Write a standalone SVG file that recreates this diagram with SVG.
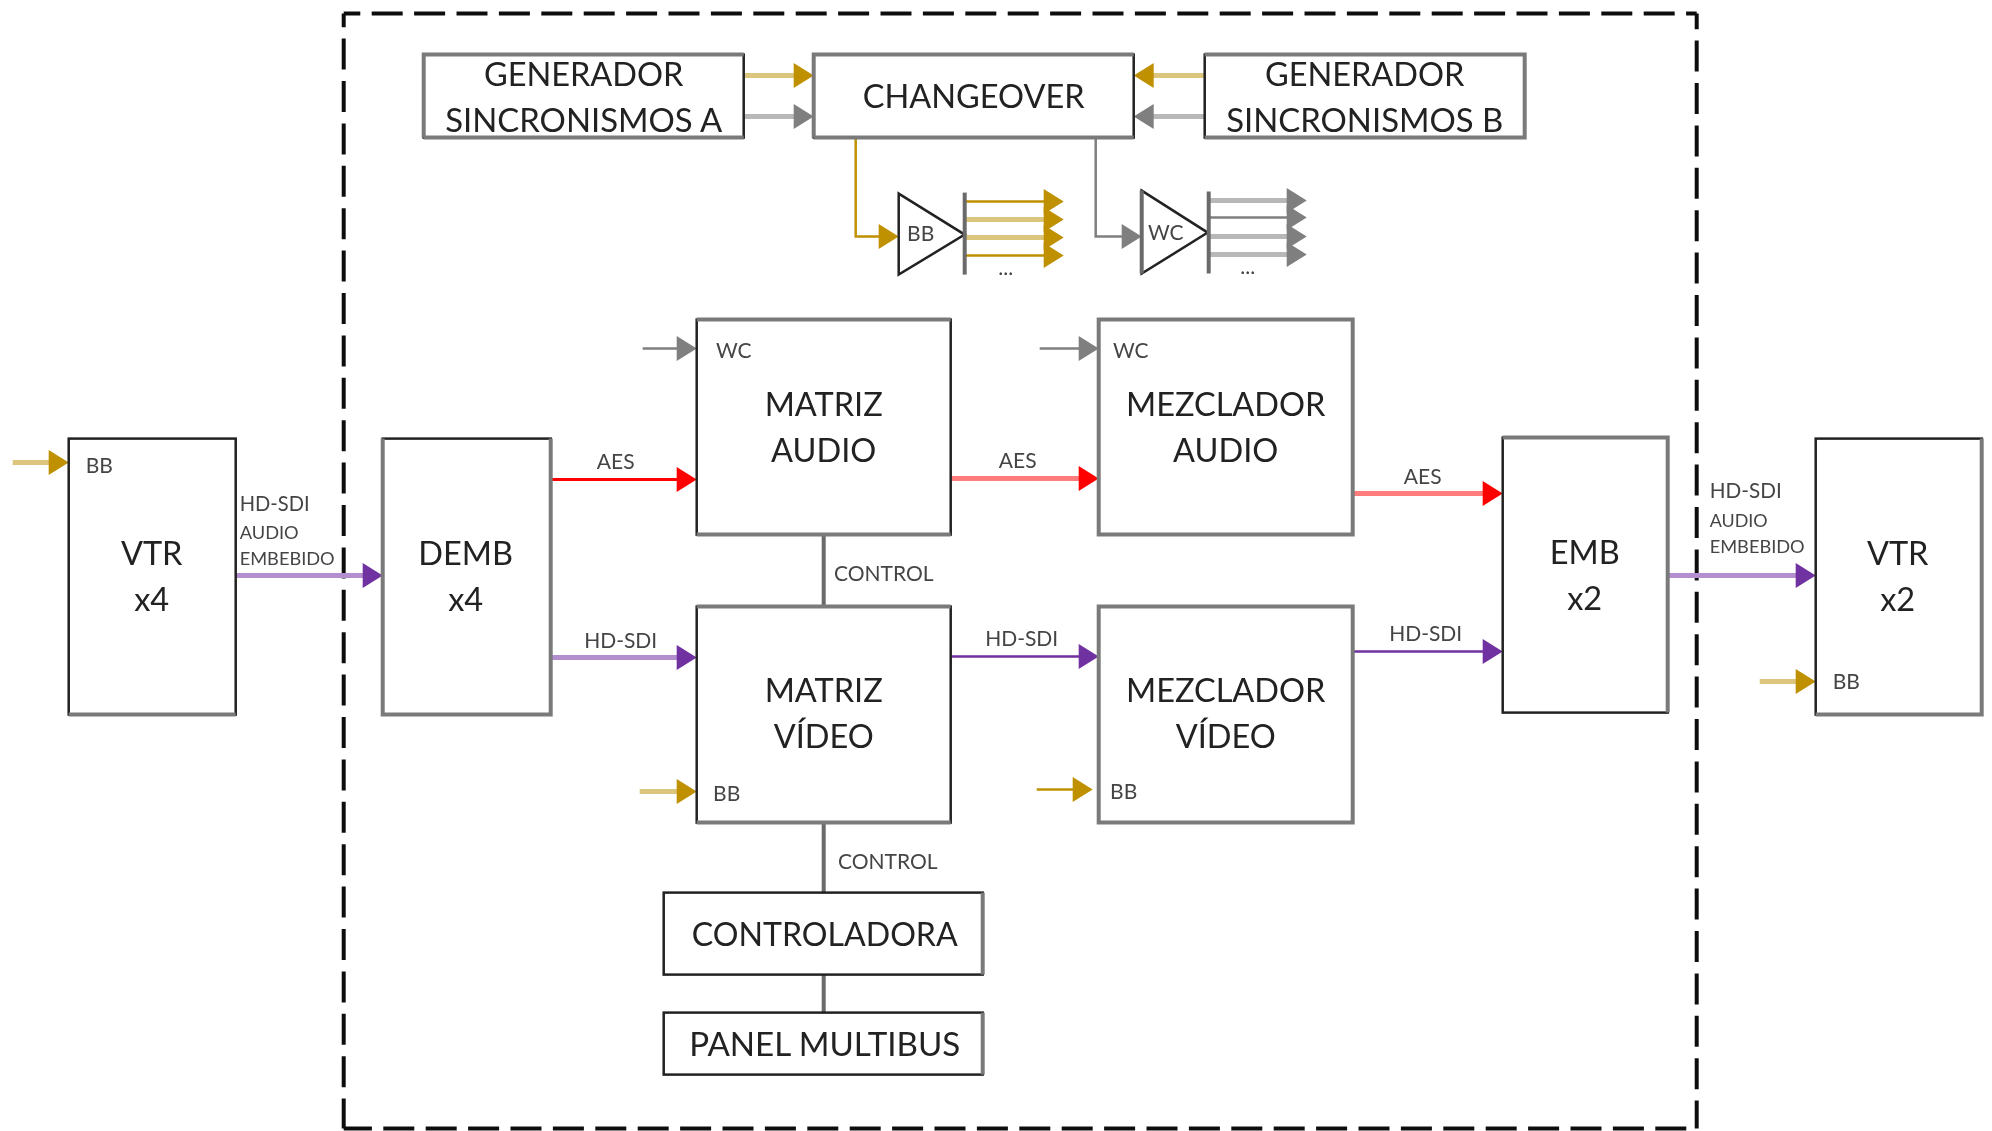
<svg xmlns="http://www.w3.org/2000/svg" width="1992" height="1131" viewBox="0 0 1992 1131">
<style>
.b{fill:#fff;stroke:#222;stroke-width:2.5}
.e{fill:none;stroke:#7a7a7a;stroke-width:4}
.d{fill:none;stroke:#111;stroke-width:4}
text{font-family:Lato,"Liberation Sans",sans-serif;fill:#222;text-anchor:middle;transform:translateY(-0.8px)}
.t{font-size:32.5px}
.s{font-size:21px;fill:#444}
.x{font-size:21px;fill:#444;text-anchor:start}
.y{font-size:18px;fill:#444;text-anchor:start}
.w{fill:none}
.go{stroke:#BF9000;stroke-width:2.5}
.gs{stroke:#DCC67E;stroke-width:5}
.gr{stroke:#7F7F7F;stroke-width:2.5}
.grs{stroke:#B8B8B8;stroke-width:5}
.r{stroke:#FF0000;stroke-width:3}
.rs{stroke:#FF7C7C;stroke-width:5}
.p{stroke:#7030A0;stroke-width:2.5}
.ps{stroke:#B48FD0;stroke-width:5}
.k{stroke:#6a6a6a;stroke-width:4;fill:none}
.ah-g{fill:#BF9000}.ah-y{fill:#7F7F7F}.ah-r{fill:#FF0000}.ah-p{fill:#7030A0}
</style>
<defs>
<path id="ah" d="M-20-12.5L0 0L-20 12.5Z"/>
<filter id="soft" x="0" y="0" width="100%" height="100%"><feGaussianBlur stdDeviation="0.5"/></filter>
</defs>
<g filter="url(#soft)">
<rect width="1992" height="1131" fill="#fff"/>
<g transform="translate(0.7 0.6)">
<g id="boundary" stroke-dasharray="31 11.4">
<path class="d" d="M343 13H1696" stroke-dashoffset="14.4"/>
<path class="d" d="M1696 13V1128" stroke-dashoffset="15.4"/>
<path class="d" d="M343 1128H1696" stroke-dashoffset="2.8"/>
<path class="d" d="M343 13V1128" stroke-dashoffset="17.4"/>
</g>
<g id="connectors">
<path class="w gs" d="M743 75H795"/><use href="#ah" class="ah-g" x="813" y="75"/>
<path class="w grs" d="M743 116H795"/><use href="#ah" class="ah-y" x="813" y="116"/>
<path class="w gs" d="M1204 75H1151"/><use href="#ah" class="ah-g" transform="translate(1133 75) scale(-1 1)"/>
<path class="w grs" d="M1204 116H1151"/><use href="#ah" class="ah-y" transform="translate(1133 116) scale(-1 1)"/>
<path class="w go" d="M855 137V236H880"/><use href="#ah" class="ah-g" x="898" y="236"/>
<path class="w gr" d="M1095 137V236H1123"/><use href="#ah" class="ah-y" x="1141" y="236"/>
<path class="w go" d="M964 201H1045"/><path class="w gs" d="M964 219H1045M964 237H1045"/><path class="w go" d="M964 255H1045"/>
<use href="#ah" class="ah-g" x="1063" y="201"/><use href="#ah" class="ah-g" x="1063" y="219"/><use href="#ah" class="ah-g" x="1063" y="237"/><use href="#ah" class="ah-g" x="1063" y="255"/>
<path class="w grs" d="M1208 200H1288M1208 236H1288M1208 254H1288"/><path class="w gr" d="M1208 217H1288"/>
<use href="#ah" class="ah-y" x="1306" y="200"/><use href="#ah" class="ah-y" x="1306" y="217"/><use href="#ah" class="ah-y" x="1306" y="236"/><use href="#ah" class="ah-y" x="1306" y="254"/>
<path class="w gs" d="M12 462H50"/><use href="#ah" class="ah-g" x="68" y="462"/>
<path class="w ps" d="M235 575H364"/><use href="#ah" class="ah-p" x="382" y="575"/>
<path class="w r" d="M550 479H678"/><use href="#ah" class="ah-r" x="696" y="479"/>
<path class="w ps" d="M550 657H678"/><use href="#ah" class="ah-p" x="696" y="657"/>
<path class="w rs" d="M950 478H1080"/><use href="#ah" class="ah-r" x="1098" y="478"/>
<path class="w p" d="M950 656H1080"/><use href="#ah" class="ah-p" x="1098" y="656"/>
<path class="w rs" d="M1353 493H1484"/><use href="#ah" class="ah-r" x="1502" y="493"/>
<path class="w p" d="M1353 651H1484"/><use href="#ah" class="ah-p" x="1502" y="651"/>
<path class="w ps" d="M1668 575H1797"/><use href="#ah" class="ah-p" x="1815" y="575"/>
<path class="w gs" d="M1759 681H1797"/><use href="#ah" class="ah-g" x="1815" y="681"/>
<path class="w gr" d="M642 348H678"/><use href="#ah" class="ah-y" x="696" y="348"/>
<path class="w gr" d="M1039 348H1080"/><use href="#ah" class="ah-y" x="1098" y="348"/>
<path class="w gs" d="M639 791H678"/><use href="#ah" class="ah-g" x="696" y="791"/>
<path class="w go" d="M1036 789H1074"/><use href="#ah" class="ah-g" x="1092" y="789"/>
<path class="k" d="M823 534V606M823 822V892M823 974V1012"/>
</g>
<g id="gen-a"><rect class="b" x="423" y="54" width="320" height="83"/><path class="e" d="M423 137V54H743M423 137H743"/><text class="t" x="583" y="86">GENERADOR</text><text class="t" x="583" y="132" textLength="277" lengthAdjust="spacingAndGlyphs">SINCRONISMOS A</text></g>
<g id="changeover"><rect class="b" x="813" y="54" width="320" height="83"/><path class="e" d="M813 137V54H1133M813 137H1133"/><text class="t" x="973" y="108">CHANGEOVER</text></g>
<g id="gen-b"><rect class="b" x="1204" y="54" width="320" height="83"/><path class="e" d="M1204 54H1524V137H1204"/><text class="t" x="1364" y="86">GENERADOR</text><text class="t" x="1364" y="132" textLength="277" lengthAdjust="spacingAndGlyphs">SINCRONISMOS B</text></g>
<g id="amp-bb"><path d="M898 193L964 234L898 274Z" fill="#fff" stroke="#222" stroke-width="2.5"/><path class="k" d="M964 192V274"/><text class="s" x="920" y="241">BB</text><text class="s" x="1005" y="275" font-size="14">...</text></g>
<g id="amp-wc"><path d="M1141 190L1207 232L1141 273Z" fill="#fff" stroke="#222" stroke-width="2.5"/><path class="k" d="M1141 190V273M1208 191V273"/><text class="s" x="1165" y="240">WC</text><text class="s" x="1247" y="274" font-size="14">...</text></g>
<g id="vtr-x4"><rect class="b" x="68" y="438" width="167" height="276"/><path class="e" d="M68 714H235"/><text class="t" x="151" y="565">VTR</text><text class="t" x="151" y="611">x4</text><text class="x" x="85" y="473">BB</text></g>
<g id="label-sdi-a"><text class="x" x="239" y="511" textLength="70" lengthAdjust="spacingAndGlyphs">HD-SDI</text><text class="y" x="239" y="539" textLength="59" lengthAdjust="spacingAndGlyphs">AUDIO</text><text class="y" x="239" y="565" textLength="95" lengthAdjust="spacingAndGlyphs">EMBEBIDO</text></g>
<g id="demb"><rect class="b" x="382" y="438" width="168" height="276"/><path class="e" d="M382 438V714H550V438"/><text class="t" x="465" y="565">DEMB</text><text class="t" x="465" y="611">x4</text></g>
<g id="matriz-audio"><rect class="b" x="696" y="319" width="254" height="215"/><path class="e" d="M696 534H950M696 319H950"/><text class="t" x="823" y="416">MATRIZ</text><text class="t" x="823" y="462">AUDIO</text><text class="s" x="733" y="358">WC</text></g>
<g id="mezclador-audio"><rect class="b" x="1098" y="319" width="254" height="215"/><path class="e" d="M1098 319H1352V534H1098Z"/><text class="t" x="1225" y="416">MEZCLADOR</text><text class="t" x="1225" y="462">AUDIO</text><text class="s" x="1130" y="358">WC</text></g>
<g id="matriz-video"><rect class="b" x="696" y="606" width="254" height="216"/><path class="e" d="M696 606H950M696 822H950"/><text class="t" x="823" y="702">MATRIZ</text><text class="t" x="823" y="748">VÍDEO</text><text class="s" x="726" y="801">BB</text></g>
<g id="mezclador-video"><rect class="b" x="1098" y="606" width="254" height="216"/><path class="e" d="M1098 606H1352V822H1098Z"/><text class="t" x="1225" y="702">MEZCLADOR</text><text class="t" x="1225" y="748">VÍDEO</text><text class="s" x="1123" y="799">BB</text></g>
<g id="emb"><rect class="b" x="1502" y="437" width="165" height="275"/><path class="e" d="M1502 437H1667V712"/><text class="t" x="1584" y="564">EMB</text><text class="t" x="1584" y="610">x2</text></g>
<g id="label-sdi-b"><text class="x" x="1709" y="498" textLength="72" lengthAdjust="spacingAndGlyphs">HD-SDI</text><text class="y" x="1709" y="527" textLength="58" lengthAdjust="spacingAndGlyphs">AUDIO</text><text class="y" x="1709" y="553" textLength="95" lengthAdjust="spacingAndGlyphs">EMBEBIDO</text></g>
<g id="vtr-x2"><rect class="b" x="1815" y="438" width="166" height="276"/><path class="e" d="M1981 438V714H1815"/><text class="t" x="1897" y="565">VTR</text><text class="t" x="1897" y="611">x2</text><text class="x" x="1832" y="689">BB</text></g>
<g id="controladora"><rect class="b" x="663" y="892" width="319" height="82"/><path class="e" d="M982 892V974"/><text class="t" x="824" y="946" textLength="266" lengthAdjust="spacingAndGlyphs">CONTROLADORA</text></g>
<g id="panel"><rect class="b" x="663" y="1012" width="319" height="62"/><path class="e" d="M982 1012V1074"/><text class="t" x="824" y="1056" textLength="271" lengthAdjust="spacingAndGlyphs">PANEL MULTIBUS</text></g>
<g id="labels">
<text class="s" x="615" y="469">AES</text><text class="s" x="620" y="648">HD-SDI</text>
<text class="s" x="1017" y="468">AES</text><text class="s" x="1021" y="646">HD-SDI</text>
<text class="s" x="1422" y="484">AES</text><text class="s" x="1425" y="641">HD-SDI</text>
<text class="s" x="883" y="581">CONTROL</text><text class="s" x="887" y="869">CONTROL</text>
</g>
</g>
</g>
</svg>
